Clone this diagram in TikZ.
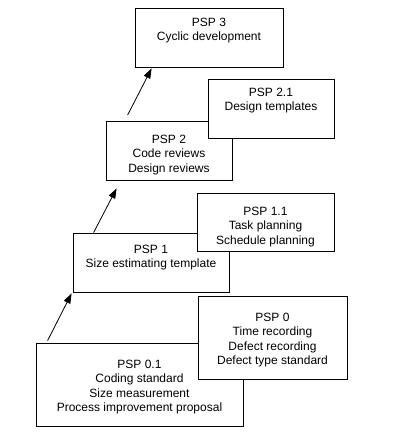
\documentclass[tikz,border=0pt]{standalone}
\usepackage{fontspec}
\setmainfont{Liberation Sans}
\usetikzlibrary{arrows.meta,calc}
\begin{document}
\begin{tikzpicture}[x=1pt,y=-1pt,
  box/.style={draw=black,fill=white,line width=0.8pt,inner sep=0pt,rectangle},
  txt/.style={inner sep=0pt,anchor=north,align=center,font=\fontsize{12}{14.3}\selectfont},
  arr/.style={draw=black,line width=0.8pt,-{Triangle[length=10pt,width=7pt]}}]
\fill[white] (0,0) rectangle (410,440);
\useasboundingbox (0,0) rectangle (410,440);
% PSP 0.1 and PSP 0
\node[box,minimum width=207pt,minimum height=83pt] (b01) at (139.5,384.5) {};
\node[txt] (t01) at (139.5,360) {PSP 0.1\\Coding standard\\Size measurement\\Process improvement proposal};
\node[box,minimum width=149pt,minimum height=83pt] (b0) at (272.5,337.5) {};
\node[txt] (t0) at (272.5,313) {PSP 0\\Time recording\\Defect recording\\Defect type standard};
% PSP 1 and PSP 1.1
\node[box,minimum width=156pt,minimum height=59pt] (b1) at (151,262.5) {};
\node[txt] (t1) at (151,245) {PSP 1\\Size estimating template};
\node[box,minimum width=137pt,minimum height=58pt] (b11) at (265.5,222) {};
\node[txt] (t11) at (265.5,207) {PSP 1.1\\Task planning\\Schedule planning};
% PSP 2 and PSP 2.1
\node[box,minimum width=126pt,minimum height=59pt] (b2) at (169,150.5) {};
\node[txt] (t2) at (169,135) {PSP 2\\Code reviews\\Design reviews};
\node[box,minimum width=126pt,minimum height=59pt] (b21) at (271,108.5) {};
\node[txt] (t21) at (271,88) {PSP 2.1\\Design templates};
% PSP 3
\node[box,minimum width=148pt,minimum height=59pt] (b3) at (209,37.5) {};
\node[txt] (t3) at (209,18) {PSP 3\\Cyclic development};
% arrows
\draw[arr] ($(b01.north west)+(12,-2)$) -- ($(b1.south west)+(-1,1)$);
\draw[arr] ($(b1.north west)+(21,0)$) -- ($(b2.south west)+(11,8)$);
\draw[arr] ($(b2.north west)+(22,-5.5)$) -- ($(b3.south west)+(17,1)$);
\end{tikzpicture}
\end{document}
